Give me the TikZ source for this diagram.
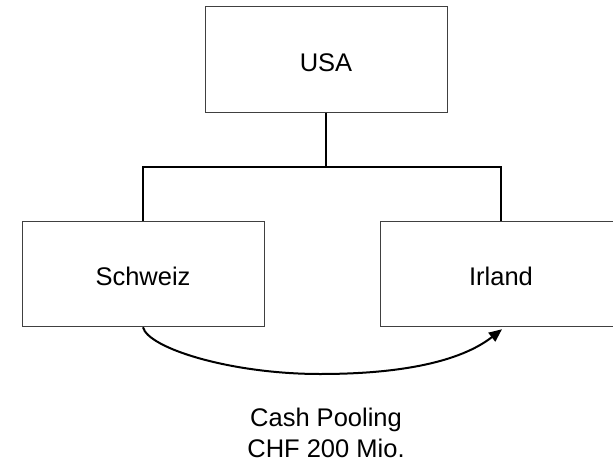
\documentclass[tikz,border=0pt]{standalone}
\usepackage{fontspec}
\setmainfont{Liberation Sans}
\usetikzlibrary{arrows.meta}
\begin{document}
\begin{tikzpicture}[x=1pt,y=-1pt,
  entity/.style={draw=black!75, line width=1pt, minimum width=242pt,
    minimum height=105pt, inner sep=0pt, text height=23.3pt, text depth=0pt,
    font=\fontsize{25.5}{31}\selectfont},
  link/.style={draw=black, line width=2pt},
  flow/.style={draw=black, line width=2pt, -{Triangle[length=13pt,width=11pt]}},
  caption/.style={font=\fontsize{25.5}{31}\selectfont, align=center, inner sep=0pt}]
\clip (0,0) rectangle (613,460);
% entities
\node[entity] (usa) at (326,59.5) {USA};
\node[entity] (schweiz) at (143,274.25) {Schweiz};
\node[entity] (irland) at (501,274.25) {Irland};
% ownership tree
\coordinate (bus) at (326,167);
\draw[link] (usa.south) -- (bus);
\draw[link] (schweiz.north) |- (bus) -| (irland.north);
% cash pooling flow
\draw[flow] (schweiz.south) .. controls (148,348) and (230,374) .. (320,374)
  .. controls (400,374) and (460,362) .. ([xshift=1pt,yshift=-2pt]irland.south);
\node[caption, anchor=base] (pool) at (326,457) {Cash Pooling\\CHF 200 Mio.};
\end{tikzpicture}
\end{document}
